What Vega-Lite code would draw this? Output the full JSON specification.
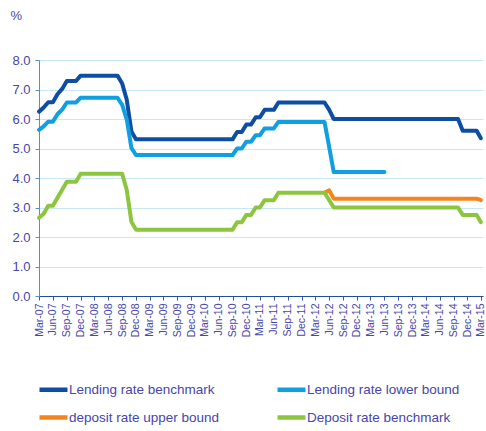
{
 "$schema": "https://vega.github.io/schema/vega-lite/v6.json",
 "width": 444, "height": 236,
 "autosize": "none",
 "padding": {"left": 39, "top": 60, "right": 3, "bottom": 135},
 "config": {"view": {"stroke": null}, "font": "Liberation Sans"},
 "data": {"values": [
  {"d":"2007-03-01","lb":6.25,"ll":5.63,"du":null,"db":2.65},
  {"d":"2007-04-01","lb":6.39,"ll":5.75,"du":null,"db":2.79},
  {"d":"2007-05-01","lb":6.57,"ll":5.91,"du":null,"db":3.06},
  {"d":"2007-06-01","lb":6.57,"ll":5.91,"du":null,"db":3.06},
  {"d":"2007-07-01","lb":6.84,"ll":6.16,"du":null,"db":3.33},
  {"d":"2007-08-01","lb":7.02,"ll":6.32,"du":null,"db":3.60},
  {"d":"2007-09-01","lb":7.29,"ll":6.56,"du":null,"db":3.87},
  {"d":"2007-10-01","lb":7.29,"ll":6.56,"du":null,"db":3.87},
  {"d":"2007-11-01","lb":7.29,"ll":6.56,"du":null,"db":3.87},
  {"d":"2007-12-01","lb":7.47,"ll":6.72,"du":null,"db":4.14},
  {"d":"2008-01-01","lb":7.47,"ll":6.72,"du":null,"db":4.14},
  {"d":"2008-02-01","lb":7.47,"ll":6.72,"du":null,"db":4.14},
  {"d":"2008-03-01","lb":7.47,"ll":6.72,"du":null,"db":4.14},
  {"d":"2008-04-01","lb":7.47,"ll":6.72,"du":null,"db":4.14},
  {"d":"2008-05-01","lb":7.47,"ll":6.72,"du":null,"db":4.14},
  {"d":"2008-06-01","lb":7.47,"ll":6.72,"du":null,"db":4.14},
  {"d":"2008-07-01","lb":7.47,"ll":6.72,"du":null,"db":4.14},
  {"d":"2008-08-01","lb":7.47,"ll":6.72,"du":null,"db":4.14},
  {"d":"2008-09-01","lb":7.20,"ll":6.48,"du":null,"db":4.14},
  {"d":"2008-10-01","lb":6.66,"ll":5.99,"du":null,"db":3.60},
  {"d":"2008-11-01","lb":5.58,"ll":5.02,"du":null,"db":2.52},
  {"d":"2008-12-01","lb":5.31,"ll":4.78,"du":null,"db":2.25},
  {"d":"2009-01-01","lb":5.31,"ll":4.78,"du":null,"db":2.25},
  {"d":"2009-02-01","lb":5.31,"ll":4.78,"du":null,"db":2.25},
  {"d":"2009-03-01","lb":5.31,"ll":4.78,"du":null,"db":2.25},
  {"d":"2009-04-01","lb":5.31,"ll":4.78,"du":null,"db":2.25},
  {"d":"2009-05-01","lb":5.31,"ll":4.78,"du":null,"db":2.25},
  {"d":"2009-06-01","lb":5.31,"ll":4.78,"du":null,"db":2.25},
  {"d":"2009-07-01","lb":5.31,"ll":4.78,"du":null,"db":2.25},
  {"d":"2009-08-01","lb":5.31,"ll":4.78,"du":null,"db":2.25},
  {"d":"2009-09-01","lb":5.31,"ll":4.78,"du":null,"db":2.25},
  {"d":"2009-10-01","lb":5.31,"ll":4.78,"du":null,"db":2.25},
  {"d":"2009-11-01","lb":5.31,"ll":4.78,"du":null,"db":2.25},
  {"d":"2009-12-01","lb":5.31,"ll":4.78,"du":null,"db":2.25},
  {"d":"2010-01-01","lb":5.31,"ll":4.78,"du":null,"db":2.25},
  {"d":"2010-02-01","lb":5.31,"ll":4.78,"du":null,"db":2.25},
  {"d":"2010-03-01","lb":5.31,"ll":4.78,"du":null,"db":2.25},
  {"d":"2010-04-01","lb":5.31,"ll":4.78,"du":null,"db":2.25},
  {"d":"2010-05-01","lb":5.31,"ll":4.78,"du":null,"db":2.25},
  {"d":"2010-06-01","lb":5.31,"ll":4.78,"du":null,"db":2.25},
  {"d":"2010-07-01","lb":5.31,"ll":4.78,"du":null,"db":2.25},
  {"d":"2010-08-01","lb":5.31,"ll":4.78,"du":null,"db":2.25},
  {"d":"2010-09-01","lb":5.31,"ll":4.78,"du":null,"db":2.25},
  {"d":"2010-10-01","lb":5.56,"ll":5.00,"du":null,"db":2.50},
  {"d":"2010-11-01","lb":5.56,"ll":5.00,"du":null,"db":2.50},
  {"d":"2010-12-01","lb":5.81,"ll":5.23,"du":null,"db":2.75},
  {"d":"2011-01-01","lb":5.81,"ll":5.23,"du":null,"db":2.75},
  {"d":"2011-02-01","lb":6.06,"ll":5.45,"du":null,"db":3.00},
  {"d":"2011-03-01","lb":6.06,"ll":5.45,"du":null,"db":3.00},
  {"d":"2011-04-01","lb":6.31,"ll":5.68,"du":null,"db":3.25},
  {"d":"2011-05-01","lb":6.31,"ll":5.68,"du":null,"db":3.25},
  {"d":"2011-06-01","lb":6.31,"ll":5.68,"du":null,"db":3.25},
  {"d":"2011-07-01","lb":6.56,"ll":5.90,"du":null,"db":3.50},
  {"d":"2011-08-01","lb":6.56,"ll":5.90,"du":null,"db":3.50},
  {"d":"2011-09-01","lb":6.56,"ll":5.90,"du":null,"db":3.50},
  {"d":"2011-10-01","lb":6.56,"ll":5.90,"du":null,"db":3.50},
  {"d":"2011-11-01","lb":6.56,"ll":5.90,"du":null,"db":3.50},
  {"d":"2011-12-01","lb":6.56,"ll":5.90,"du":null,"db":3.50},
  {"d":"2012-01-01","lb":6.56,"ll":5.90,"du":null,"db":3.50},
  {"d":"2012-02-01","lb":6.56,"ll":5.90,"du":null,"db":3.50},
  {"d":"2012-03-01","lb":6.56,"ll":5.90,"du":null,"db":3.50},
  {"d":"2012-04-01","lb":6.56,"ll":5.90,"du":null,"db":3.50},
  {"d":"2012-05-01","lb":6.56,"ll":5.90,"du":3.50,"db":3.50},
  {"d":"2012-06-01","lb":6.31,"ll":5.05,"du":3.58,"db":3.25},
  {"d":"2012-07-01","lb":6.00,"ll":4.20,"du":3.30,"db":3.00},
  {"d":"2012-08-01","lb":6.00,"ll":4.20,"du":3.30,"db":3.00},
  {"d":"2012-09-01","lb":6.00,"ll":4.20,"du":3.30,"db":3.00},
  {"d":"2012-10-01","lb":6.00,"ll":4.20,"du":3.30,"db":3.00},
  {"d":"2012-11-01","lb":6.00,"ll":4.20,"du":3.30,"db":3.00},
  {"d":"2012-12-01","lb":6.00,"ll":4.20,"du":3.30,"db":3.00},
  {"d":"2013-01-01","lb":6.00,"ll":4.20,"du":3.30,"db":3.00},
  {"d":"2013-02-01","lb":6.00,"ll":4.20,"du":3.30,"db":3.00},
  {"d":"2013-03-01","lb":6.00,"ll":4.20,"du":3.30,"db":3.00},
  {"d":"2013-04-01","lb":6.00,"ll":4.20,"du":3.30,"db":3.00},
  {"d":"2013-05-01","lb":6.00,"ll":4.20,"du":3.30,"db":3.00},
  {"d":"2013-06-01","lb":6.00,"ll":4.20,"du":3.30,"db":3.00},
  {"d":"2013-07-01","lb":6.00,"ll":null,"du":3.30,"db":3.00},
  {"d":"2013-08-01","lb":6.00,"ll":null,"du":3.30,"db":3.00},
  {"d":"2013-09-01","lb":6.00,"ll":null,"du":3.30,"db":3.00},
  {"d":"2013-10-01","lb":6.00,"ll":null,"du":3.30,"db":3.00},
  {"d":"2013-11-01","lb":6.00,"ll":null,"du":3.30,"db":3.00},
  {"d":"2013-12-01","lb":6.00,"ll":null,"du":3.30,"db":3.00},
  {"d":"2014-01-01","lb":6.00,"ll":null,"du":3.30,"db":3.00},
  {"d":"2014-02-01","lb":6.00,"ll":null,"du":3.30,"db":3.00},
  {"d":"2014-03-01","lb":6.00,"ll":null,"du":3.30,"db":3.00},
  {"d":"2014-04-01","lb":6.00,"ll":null,"du":3.30,"db":3.00},
  {"d":"2014-05-01","lb":6.00,"ll":null,"du":3.30,"db":3.00},
  {"d":"2014-06-01","lb":6.00,"ll":null,"du":3.30,"db":3.00},
  {"d":"2014-07-01","lb":6.00,"ll":null,"du":3.30,"db":3.00},
  {"d":"2014-08-01","lb":6.00,"ll":null,"du":3.30,"db":3.00},
  {"d":"2014-09-01","lb":6.00,"ll":null,"du":3.30,"db":3.00},
  {"d":"2014-10-01","lb":6.00,"ll":null,"du":3.30,"db":3.00},
  {"d":"2014-11-01","lb":5.60,"ll":null,"du":3.30,"db":2.75},
  {"d":"2014-12-01","lb":5.60,"ll":null,"du":3.30,"db":2.75},
  {"d":"2015-01-01","lb":5.60,"ll":null,"du":3.30,"db":2.75},
  {"d":"2015-02-01","lb":5.60,"ll":null,"du":3.30,"db":2.75},
  {"d":"2015-03-01","lb":5.35,"ll":null,"du":3.25,"db":2.50}
 ]},
 "transform": [{"fold": ["lb","ll","du","db"], "as": ["key","value"]}],
 "encoding": {
  "x": {"field": "d", "type": "temporal",
   "scale": {"type": "utc", "domain": [{"year":2007,"month":3,"date":1,"utc":true},{"year":2015,"month":3,"date":15,"utc":true}]},
   "axis": {"title": null, "format": "%b-%y", "labelAngle": -90, "labelFontSize": 10.5, "labelColor": "#4646a8",
    "labelPadding": 3, "tickSize": 4, "tickColor": "#2b5fae", "domainColor": "#1f4f9e", "grid": false,
    "labelOverlap": false, "labelBound": false, "labelFlush": false,
    "values": [
     {"year":2007,"month":3,"date":1,"utc":true},{"year":2007,"month":6,"date":1,"utc":true},{"year":2007,"month":9,"date":1,"utc":true},{"year":2007,"month":12,"date":1,"utc":true},
     {"year":2008,"month":3,"date":1,"utc":true},{"year":2008,"month":6,"date":1,"utc":true},{"year":2008,"month":9,"date":1,"utc":true},{"year":2008,"month":12,"date":1,"utc":true},
     {"year":2009,"month":3,"date":1,"utc":true},{"year":2009,"month":6,"date":1,"utc":true},{"year":2009,"month":9,"date":1,"utc":true},{"year":2009,"month":12,"date":1,"utc":true},
     {"year":2010,"month":3,"date":1,"utc":true},{"year":2010,"month":6,"date":1,"utc":true},{"year":2010,"month":9,"date":1,"utc":true},{"year":2010,"month":12,"date":1,"utc":true},
     {"year":2011,"month":3,"date":1,"utc":true},{"year":2011,"month":6,"date":1,"utc":true},{"year":2011,"month":9,"date":1,"utc":true},{"year":2011,"month":12,"date":1,"utc":true},
     {"year":2012,"month":3,"date":1,"utc":true},{"year":2012,"month":6,"date":1,"utc":true},{"year":2012,"month":9,"date":1,"utc":true},{"year":2012,"month":12,"date":1,"utc":true},
     {"year":2013,"month":3,"date":1,"utc":true},{"year":2013,"month":6,"date":1,"utc":true},{"year":2013,"month":9,"date":1,"utc":true},{"year":2013,"month":12,"date":1,"utc":true},
     {"year":2014,"month":3,"date":1,"utc":true},{"year":2014,"month":6,"date":1,"utc":true},{"year":2014,"month":9,"date":1,"utc":true},{"year":2014,"month":12,"date":1,"utc":true},
     {"year":2015,"month":3,"date":1,"utc":true}
    ]}},
  "y": {"field": "value", "type": "quantitative",
   "scale": {"domain": [0, 8], "nice": false},
   "axis": {"title": "%", "titleAngle": 0, "titleAlign": "left", "titleBaseline": "alphabetic", "titleX": -29, "titleY": -41,
    "titleFontSize": 13, "titleFontWeight": "normal", "titleColor": "#4646a8",
    "values": [0,1,2,3,4,5,6,7,8], "format": ".1f", "labelFontSize": 13, "labelColor": "#4646a8", "labelPadding": 5,
    "tickSize": 4, "tickColor": "#5b8bd0", "domainColor": "#5b8bd0", "grid": true, "gridColor": "#c8e8f6"}}
 },
 "layer": [
  {"transform": [{"filter": "datum.key == 'lb'"}],
   "mark": {"type": "line", "strokeWidth": 4, "strokeCap": "round", "strokeJoin": "round"},
   "encoding": {"color": {"datum": "Lending rate benchmark",
    "scale": {"domain": ["Lending rate benchmark", "Lending rate lower bound", "deposit rate upper bound", "Deposit rate benchmark"],
              "range": ["#0d4ea3", "#109fe0", "#f5841f", "#8cc63f"]},
    "legend": {"orient": "none", "legendX": -2, "legendY": 313, "direction": "horizontal", "columns": 2, "title": null,
     "symbolType": "stroke", "symbolSize": 784, "symbolStrokeWidth": 4.5, "labelFontSize": 13.5, "labelColor": "#4646a8",
     "labelOffset": -1, "columnPadding": 48, "rowPadding": 2, "labelLimit": 300}}}},
  {"transform": [{"filter": "datum.key == 'll'"}],
   "mark": {"type": "line", "strokeWidth": 4, "strokeCap": "round", "strokeJoin": "round"},
   "encoding": {"color": {"datum": "Lending rate lower bound"}}},
  {"transform": [{"filter": "datum.key == 'du'"}],
   "mark": {"type": "line", "strokeWidth": 4, "strokeCap": "round", "strokeJoin": "round"},
   "encoding": {"color": {"datum": "deposit rate upper bound"}}},
  {"transform": [{"filter": "datum.key == 'db'"}],
   "mark": {"type": "line", "strokeWidth": 4, "strokeCap": "round", "strokeJoin": "round"},
   "encoding": {"color": {"datum": "Deposit rate benchmark"}}}
 ]
}
